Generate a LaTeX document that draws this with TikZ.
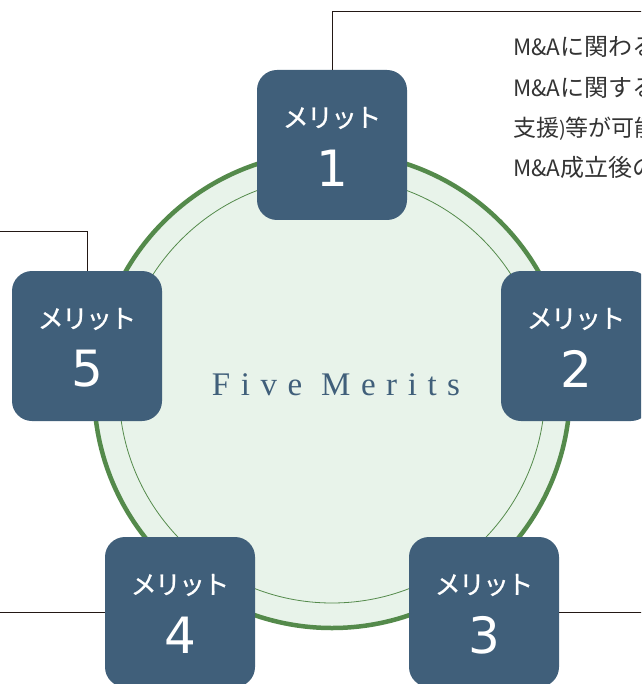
\documentclass[tikz,border=0pt]{standalone}
\usepackage{fontspec}
\newfontfamily\jpfont{Noto Sans CJK JP}
\newfontfamily\jpboxfont[FakeBold=0.6,LetterSpace=-7]{Noto Sans CJK JP}
\newfontfamily\digitfont{DejaVu Sans}
\newfontfamily\titlefont[LetterSpace=32]{Liberation Serif}
\definecolor{boxblue}{HTML}{405F7A}
\definecolor{ringgreen}{HTML}{548A4B}
\definecolor{paleg}{HTML}{E8F3EA}
\definecolor{linek}{HTML}{231815}
\definecolor{txtgray}{HTML}{333333}
\newcommand{\mna}{{\fontsize{22.5}{22.5}\selectfont M\&A}}
\tikzset{
  meritbox/.style={fill=boxblue, rounded corners=20pt, minimum width=150pt, minimum height=150pt, inner sep=0pt},
  kana/.style={text=white, font=\jpboxfont\fontsize{26}{26}\selectfont, inner sep=0pt},
  digit/.style={text=white, font=\digitfont\fontsize{50}{50}\selectfont, inner sep=0pt},
  leader/.style={draw=linek, line width=1pt},
  desc/.style={text=txtgray, font=\jpfont\fontsize{24}{24}\selectfont, inner sep=0pt, anchor=base west}
}
\begin{document}
\begin{tikzpicture}[x=1pt,y=-1pt]
\useasboundingbox (0,0) rectangle (641,684);
\clip (0,0) rectangle (641,684);
% circle
\fill[paleg] (332,390) circle[radius=238];
\draw[ringgreen, line width=4.5pt] (332,390) circle[radius=238];
\draw[ringgreen, line width=0.8pt] (332,390) circle[radius=213];
\node[text=boxblue, font=\titlefont\fontsize{33}{33}\selectfont, inner sep=0pt] (title) at (336,385) {Five Merits};
% boxes
\node[meritbox] (b1) at (332,145) {};
\node[meritbox] (b2) at (576,346) {};
\node[meritbox] (b3) at (484,612) {};
\node[meritbox] (b4) at (180,612) {};
\node[meritbox] (b5) at (87,346) {};
% leaders
\coordinate (e1) at (660,12);
\coordinate (e5) at (-20,232);
\coordinate (e4) at (-20,611);
\coordinate (e3) at (660,611);
\draw[leader] (b1.north) |- (e1);
\draw[leader] (b5.north) |- (e5);
\draw[leader] (b4.west) -- (e4 |- b4.west);
\draw[leader] (b3.east) -- (e3 |- b3.east);
% labels
\foreach \b/\n in {b1/1,b2/2,b3/3,b4/4,b5/5}{
  \node[kana] (k\b) at ([yshift=27pt]\b.center) {メリット};
  \node[digit] (d\b) at ([yshift=-23pt]\b.center) {\n};
}
% description text
\node[desc] (t1) at (513,56) {\mna に関わる};
\node[desc] (t2) at (513,97) {\mna に関する};
\node[desc, font=\jpfont\fontsize{23}{23}\selectfont] (t3) at (513,137) {支援{\fontsize{20}{20}\selectfont)}等が可能};
\node[desc] (t4) at (513,177) {\mna 成立後の};
\end{tikzpicture}
\end{document}
